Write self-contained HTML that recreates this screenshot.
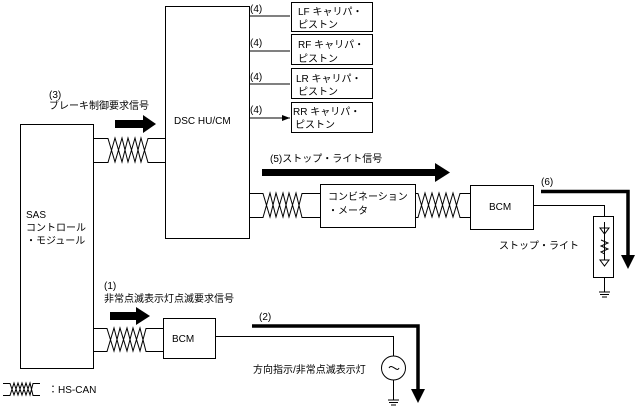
<!DOCTYPE html>
<html><head><meta charset="utf-8"><style>
body{margin:0;background:#fff}
svg text{font-family:"Liberation Sans","Noto Sans CJK JP",sans-serif;font-size:10px;fill:#000}
</style></head><body>
<svg width="636" height="408" viewBox="0 0 636 408" xmlns="http://www.w3.org/2000/svg">
<defs>
<marker id="a" markerWidth="8" markerHeight="6" refX="8" refY="3" orient="auto" markerUnits="userSpaceOnUse"><path d="M0,0L8,3L0,6z" fill="#000"/></marker>
</defs>
<g fill="#fff" stroke="#000" stroke-width="1">
<rect x="20.5" y="124.5" width="73" height="244"/>
<rect x="165.5" y="6.5" width="84" height="232"/>
<rect x="291.5" y="2.5" width="81" height="29"/>
<rect x="291.5" y="34.5" width="81" height="30"/>
<rect x="291.5" y="68.5" width="81" height="30"/>
<rect x="291.5" y="102.5" width="81" height="30"/>
<rect x="320.5" y="184.5" width="95" height="43"/>
<rect x="470.5" y="185.5" width="63" height="44"/>
<rect x="163.5" y="318.5" width="52" height="40"/>
<rect x="593.5" y="216.5" width="20" height="61"/>
</g>
<g stroke="#000" stroke-width="1" fill="none">
<path d="M249,16H290M249,51H290M249,84H290M249,118H290" marker-end="url(#a)"/>
<!-- twisted pairs -->
<path d="M93,138.5H108L115,162L122,138L128,162L135,138L141,162L148,138.5H165M93,162.5H108L115,138L122,162L128,138L135,162L141,138L148,162.5H165"/>
<path d="M249,193.5H263L270,217L276,193L283,217L289,193L296,217L302,193.5H320M249,217.5H263L270,193L276,217L283,193L289,217L296,193L302,217.5H320"/>
<path d="M415,193.5H418L425,217L432,193L439,217L446,193L453,217L460,193.5H470M415,217.5H418L425,193L432,217L439,193L446,217L453,193L460,217.5H470"/>
<path d="M93,328.5H107L114,351L120,328L127,351L133,328L140,351L146,328.5H163M93,351.5H107L114,328L120,351L127,328L133,351L140,328L146,351.5H163"/>
<path d="M3,383.5H10L14,395L18,383L22,395L26,383L30,395L33,383.5H40M3,395.5H10L14,383L18,395L22,383L26,395L30,383L33,395.5H40"/>
<!-- wires -->
<path d="M533,205.5H604.5V216M604.5,277V292M599,292H610M600,294.5H609M602,297H607"/>
<path d="M215,336.5H393.5V356M393.5,380V400M388,400H399M389,402.5H398M391,405H396"/>
<circle cx="393.5" cy="368" r="12"/>
<path d="M389,368c3,-5 8,5 10,0"/>
<path d="M604.5,222V260M600,228H609L604.5,234zM601,240L608,243L601,246L608,249L601,252L604.5,254M600,260H609L604.5,266z"/>
</g>
<!-- thick arrows -->
<g fill="#000">
<rect x="115" y="120" width="30" height="8"/><path d="M143,115L156,124L143,133z"/>
<rect x="110" y="312" width="28" height="8"/><path d="M136,307L150,316L136,325z"/>
<rect x="262" y="169" width="175" height="7"/><path d="M435,163L450,172.5L435,182z"/>
</g>
<path d="M541,191.5H628V258" stroke="#000" stroke-width="3.5" fill="none"/>
<path d="M621,255L628,269L635,255z" fill="#000"/>
<path d="M252,326H418V392" stroke="#000" stroke-width="3.5" fill="none"/>
<path d="M411,389L418,403L425,389z" fill="#000"/>
<!-- text -->
<text x="250" y="12">(4)</text><text x="250" y="46">(4)</text><text x="250" y="80">(4)</text><text x="250" y="113">(4)</text>
<text x="298" y="15">LF キャリパ・</text><text x="298" y="28">ピストン</text>
<text x="298" y="48">RF キャリパ・</text><text x="298" y="62">ピストン</text>
<text x="296" y="82">LR キャリパ・</text><text x="298" y="95">ピストン</text>
<text x="293" y="115">RR キャリパ・</text><text x="295" y="128">ピストン</text>
<text x="49" y="98">(3)</text><text x="49" y="109">ブレーキ制御要求信号</text>
<text x="174" y="124">DSC HU/CM</text>
<text x="26" y="218">SAS</text><text x="26" y="231">コントロール</text><text x="26" y="244">・モジュール</text>
<text x="270" y="162">(5)ストップ・ライト信号</text>
<text x="328" y="200">コンビネーション</text><text x="328" y="214">・メータ</text>
<text x="489" y="210">BCM</text>
<text x="541" y="185">(6)</text>
<text x="499" y="249">ストップ・ライト</text>
<text x="104" y="289">(1)</text><text x="104" y="302">非常点滅表示灯点滅要求信号</text>
<text x="172" y="342">BCM</text>
<text x="259" y="320">(2)</text>
<text x="253" y="373">方向指示/非常点滅表示灯</text>
<text x="48" y="393">：HS-CAN</text>
</svg>
</body></html>
